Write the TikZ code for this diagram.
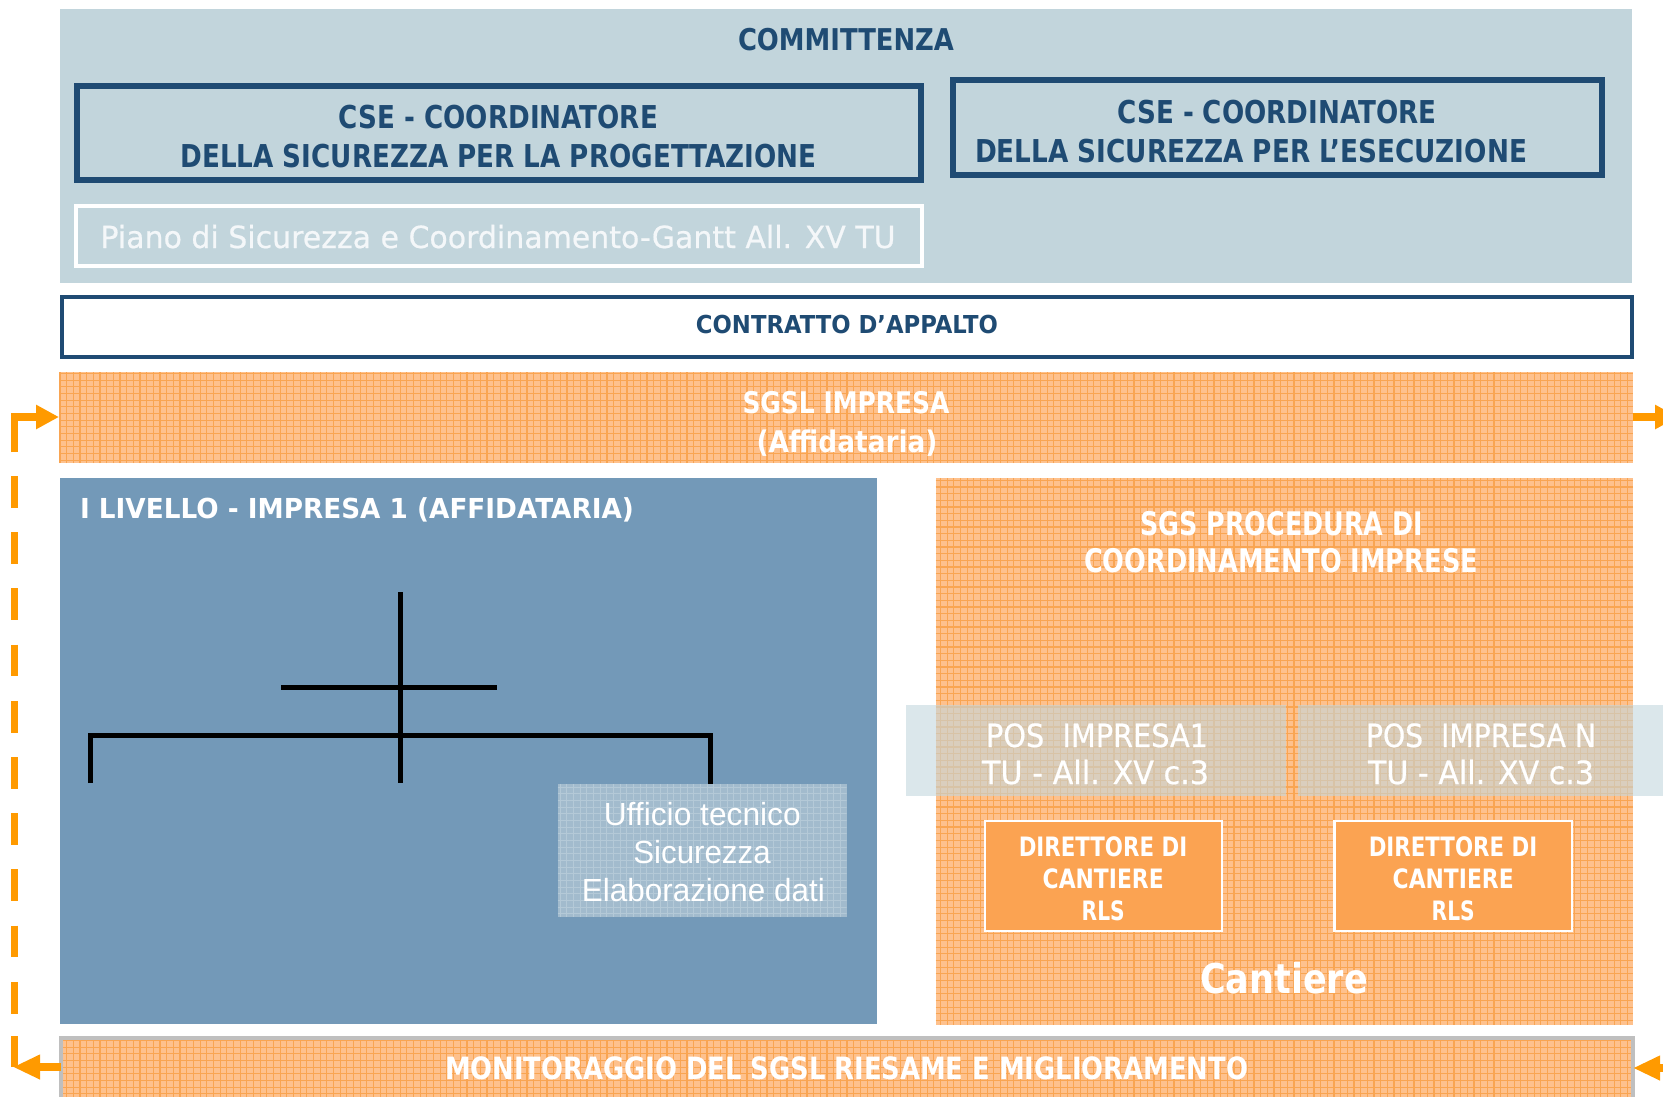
\documentclass[tikz,border=0pt]{standalone}
\usepackage{fontspec}
\usepackage{graphicx}
\usetikzlibrary{arrows.meta}
\newfontfamily\tah{DejaVu Sans}
\newfontfamily\tahr[FakeBold=0.6]{DejaVu Sans}
\newfontfamily\ari{Liberation Sans}
\definecolor{navy}{HTML}{1F4B73}
\definecolor{commbg}{HTML}{C2D5DC}
\definecolor{steel}{HTML}{7399B8}
\definecolor{orbase}{HTML}{FEC18D}
\definecolor{orline}{HTML}{F9A552}
\definecolor{ordeep}{HTML}{FBA352}
\definecolor{arrowor}{HTML}{FF9A00}
\definecolor{uffbg}{HTML}{A2BBCD}
\definecolor{uffline}{HTML}{B4C9D7}
\definecolor{posbg}{HTML}{C3D7DE}
\definecolor{pianotxt}{HTML}{F4F7F9}
\definecolor{graybd}{HTML}{BFBFBF}
\newcommand\fw[2]{\resizebox{#1}{\height}{#2}}
\newcommand\fs[1]{\fontsize{#1}{#1}\selectfont}
\newcommand\texgrid[3]{\begin{scope}\clip (#1.south west) rectangle (#1.north east);\draw[#2, step=#3] (#1.south west) grid (#1.north east);\end{scope}}
\begin{document}
\begin{tikzpicture}[x=1pt,y=-1pt,
 panel/.style={inner sep=0pt, outer sep=0pt, anchor=north west},
 tx/.style={inner sep=0pt, outer sep=0pt, anchor=base},
 bt/.style={tx, font=\tah\bfseries, text=white},
 nt/.style={tx, font=\tah\bfseries, text=navy},
 rt/.style={tx, font=\tahr, text=white},
 oline/.style={draw=arrowor, line width=7.5pt},
 org/.style={draw=black, line width=5pt},
 orgrid/.style={draw=orline, line width=1.2pt},
 uffgrid/.style={draw=uffline, line width=1pt},
]
\useasboundingbox (0,0) rectangle (1663,1096);
\clip (0,0) rectangle (1663,1096);
\fill[white] (0,0) rectangle (1663,1096);

% COMMITTENZA area
\node[panel, fill=commbg, minimum width=1572pt, minimum height=274pt] (comm) at (60,9) {};
\node[panel, draw=navy, line width=6pt, minimum width=844.5pt, minimum height=94pt] (csp) at (76.5,86) {};
\node[panel, draw=navy, line width=6pt, minimum width=649pt, minimum height=95pt] (cse) at (953,80) {};
\node[panel, draw=white, line width=4pt, minimum width=846.5pt, minimum height=60pt] (psc) at (75.5,206) {};

% contratto
\node[panel, draw=navy, line width=4pt, fill=white, minimum width=1570pt, minimum height=60pt] (ctr) at (62,297) {};

% SGSL band
\node[panel, fill=orbase, minimum width=1574pt, minimum height=91pt] (sgsl) at (59,372) {};
\texgrid{sgsl}{orgrid}{6.67pt}

% I livello
\node[panel, fill=steel, minimum width=817pt, minimum height=546pt] (liv) at (60,478) {};

% SGS box
\node[panel, fill=orbase, minimum width=697.5pt, minimum height=546.5pt] (sgs) at (935.5,478) {};
\texgrid{sgs}{orgrid}{6.67pt}

% POS bands
\node[panel, fill=posbg, fill opacity=0.6, minimum width=379.5pt, minimum height=91pt] (pos1) at (906,705) {};
\node[panel, fill=posbg, fill opacity=0.6, minimum width=380pt, minimum height=91pt] (posn) at (1298,705) {};

% Direttore boxes
\node[panel, draw=white, fill=ordeep, line width=2.5pt, minimum width=237pt, minimum height=110pt] (dir1) at (985,821) {};
\node[panel, draw=white, fill=ordeep, line width=2.5pt, minimum width=237.5pt, minimum height=110pt] (dirn) at (1334.5,821) {};

% Ufficio
\node[panel, fill=uffbg, minimum width=289pt, minimum height=132.7pt] (uff) at (557.7,784) {};
\texgrid{uff}{uffgrid}{6.67pt}

% monitoring band
\node[panel, fill=orbase, minimum width=1572pt, minimum height=80pt] (mon) at (61,1038) {};
\texgrid{mon}{orgrid}{6.67pt}
\draw[graybd, line width=4pt] (mon.south west) |- (mon.north east) -- (mon.south east);

% org chart
\coordinate (vtop) at (400.7,592);
\coordinate (vbot) at (400.7,783);
\coordinate (hsl) at (281,687.7);
\coordinate (hsr) at (497,687.7);
\coordinate (hl) at (90.7,735);
\coordinate (hr) at (710,735);
\coordinate (hlb) at (90.7,783);
\draw[org] (vtop) -- (vbot);
\draw[org] (hsl) -- (hsr);
\draw[org] (hlb) -- (hl) -- (hr) -- (hr |- uff.north);

% texts
\node[nt] (tcomm) at (846,50) {\fs{30}\fw{216pt}{COMMITTENZA}};
\node[nt] (tcsp1) at (498.5,128) {\fs{31.5}\fw{319pt}{CSE - COORDINATORE}};
\node[nt] (tcsp2) at (498.5,167) {\fs{31.5}\fw{636pt}{DELLA SICUREZZA PER LA PROGETTAZIONE}};
\node[nt] (tcse1) at (1277,123) {\fs{31.5}\fw{319pt}{CSE - COORDINATORE}};
\node[nt] (tcse2) at (1251,162) {\fs{31.5}\fw{552pt}{DELLA SICUREZZA PER L’ESECUZIONE}};
\node[tx, font=\tahr, text=pianotxt] (tpsc) at (498,248) {\fs{30.5}\fw{795pt}{Piano di Sicurezza e Coordinamento-Gantt All. XV TU}};
\node[nt] (tctr) at (847,333.5) {\fs{24.7}\fw{302pt}{CONTRATTO D’APPALTO}};
\node[bt] (tsgsl1) at (846,413) {\fs{29.8}\fw{207pt}{SGSL IMPRESA}};
\node[bt] (tsgsl2) at (847,452.5) {\fs{29.8}\fw{181pt}{(Affidataria)}};
\node[bt, anchor=base west] (tliv) at (80,518) {\fs{27.5}\fw{554pt}{I LIVELLO - IMPRESA 1 (AFFIDATARIA)}};
\node[bt] (tsgs1) at (1281.5,535) {\fs{32.5}\fw{283pt}{SGS PROCEDURA DI}};
\node[bt] (tsgs2) at (1281,572.6) {\fs{32.5}\fw{394pt}{COORDINAMENTO IMPRESE}};
\node[rt] (tpos1a) at (1097,747) {\fs{32}\fw{222pt}{POS\ \ IMPRESA1}};
\node[rt] (tpos1b) at (1095.5,784) {\fs{32}\fw{227pt}{TU - All. XV c.3}};
\node[rt] (tposna) at (1481,747) {\fs{32}\fw{230pt}{POS\ \ IMPRESA N}};
\node[rt] (tposnb) at (1481,784) {\fs{32}\fw{226pt}{TU - All. XV c.3}};
\node[bt] (td1a) at (1103,856) {\fs{26.7}\fw{168.5pt}{DIRETTORE DI}};
\node[bt] (td1b) at (1103.2,888) {\fs{26.7}\fw{121pt}{CANTIERE}};
\node[bt] (td1c) at (1103.2,920.5) {\fs{26.7}\fw{43pt}{RLS}};
\node[bt] (tdna) at (1453,856) {\fs{26.7}\fw{168.5pt}{DIRETTORE DI}};
\node[bt] (tdnb) at (1453.2,888) {\fs{26.7}\fw{121pt}{CANTIERE}};
\node[bt] (tdnc) at (1453.2,920.5) {\fs{26.7}\fw{43pt}{RLS}};
\node[bt] (tcant) at (1284,993) {\fs{41}\fw{168pt}{Cantiere}};
\node[bt] (tmon) at (846.6,1079) {\fs{30.7}\fw{803pt}{MONITORAGGIO DEL SGSL RIESAME E MIGLIORAMENTO}};
\node[tx, font=\ari, text=white] (tu1) at (702.3,825) {\fs{32}\fw{197pt}{Ufficio tecnico}};
\node[tx, font=\ari, text=white] (tu2) at (702,863) {\fs{32}\fw{137.3pt}{Sicurezza}};
\node[tx, font=\ari, text=white] (tu3) at (703.4,901.7) {\fs{32}\fw{243pt}{Elaborazione dati}};

% feedback arrows
\coordinate (tlc) at (14.5,417);
\coordinate (tls) at (14.5,452);
\coordinate (dtop) at (14.5,476);
\coordinate (dbot) at (14.5,1036);
\coordinate (blc) at (14.5,1067);
\coordinate (bltip) at (13,1067);
\coordinate (trtip) at (1678,417);
\coordinate (brtail) at (1700,1068);
\draw[oline, -{Triangle[length=23pt,width=23pt]}] (tls) -- (tlc) -- (sgsl.west |- tlc);
\draw[oline, dash pattern=on 31.8pt off 24.4pt] (dtop) -- (dbot);
\draw[oline] (dbot) -- (blc);
\draw[oline, -{Triangle[length=27pt,width=23pt]}] (mon.west |- bltip) -- (bltip);
\draw[oline, -{Triangle[length=23pt,width=23pt]}] (sgsl.east |- tlc) -- (trtip);
\draw[oline, -{Triangle[length=27pt,width=23pt]}] (brtail) -- (mon.east |- brtail);
\end{tikzpicture}
\end{document}
